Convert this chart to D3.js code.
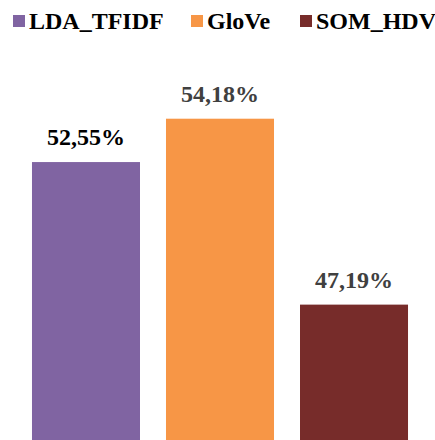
<!DOCTYPE html>
<html>
<head>
<meta charset="UTF-8">
<script src="https://d3js.org/d3.v7.min.js"></script>
<style>
body { margin: 0; background: #fff; }
text { font-family: "Liberation Serif", "Times New Roman", serif; font-weight: bold; }
</style>
</head>
<body>
<svg width="435" height="440"></svg>
<script>
// chart data
var methods = ["LDA_TFIDF", "GloVe", "SOM_HDV"];
var scores = [52.55, 54.18, 47.19];
var labels = ["52,55%", "54,18%", "47,19%"];
var colors = ["#8064A2", "#F79646", "#772C2A"];
var labelColors = ["#000000", "#404040", "#404040"];

var svg = d3.select("svg");

var x = d3.scaleBand()
    .domain(methods)
    .range([2.5, 437.5])
    .paddingInner(0.194)
    .paddingOuter(0.22);

var y = d3.scaleLinear()
    .domain([42.1, 56.5])
    .range([440, 57]);

svg.append("g").selectAll("rect")
  .data(methods)
  .enter().append("rect")
  .attr("x", function(d) { return x(d); })
  .attr("width", x.bandwidth())
  .attr("y", function(d, i) { return y(scores[i]); })
  .attr("height", function(d, i) { return y(42.1) - y(scores[i]); })
  .style("fill", function(d, i) { return colors[i]; });

// value labels
svg.append("g").selectAll("text")
  .data(methods)
  .enter().append("text")
  .attr("x", function(d) { return x(d) + x.bandwidth() / 2; })
  .attr("y", function(d, i) { return y(scores[i]) - 17; })
  .attr("text-anchor", "middle")
  .style("font-size", "24px")
  .style("fill", function(d, i) { return labelColors[i]; })
  .text(function(d, i) { return labels[i]; });

// legend
var legendX = [13, 191, 300];
var legend = svg.append("g").selectAll("g")
  .data(methods)
  .enter().append("g")
  .attr("transform", function(d, i) { return "translate(" + legendX[i] + ",15)"; });

legend.append("rect")
  .attr("width", 12)
  .attr("height", 12)
  .style("fill", function(d, i) { return colors[i]; });

legend.append("text")
  .attr("x", 16)
  .attr("y", 14)
  .style("font-size", "24px")
  .style("fill", "#000")
  .text(function(d) { return d; });
</script>
</body>
</html>
